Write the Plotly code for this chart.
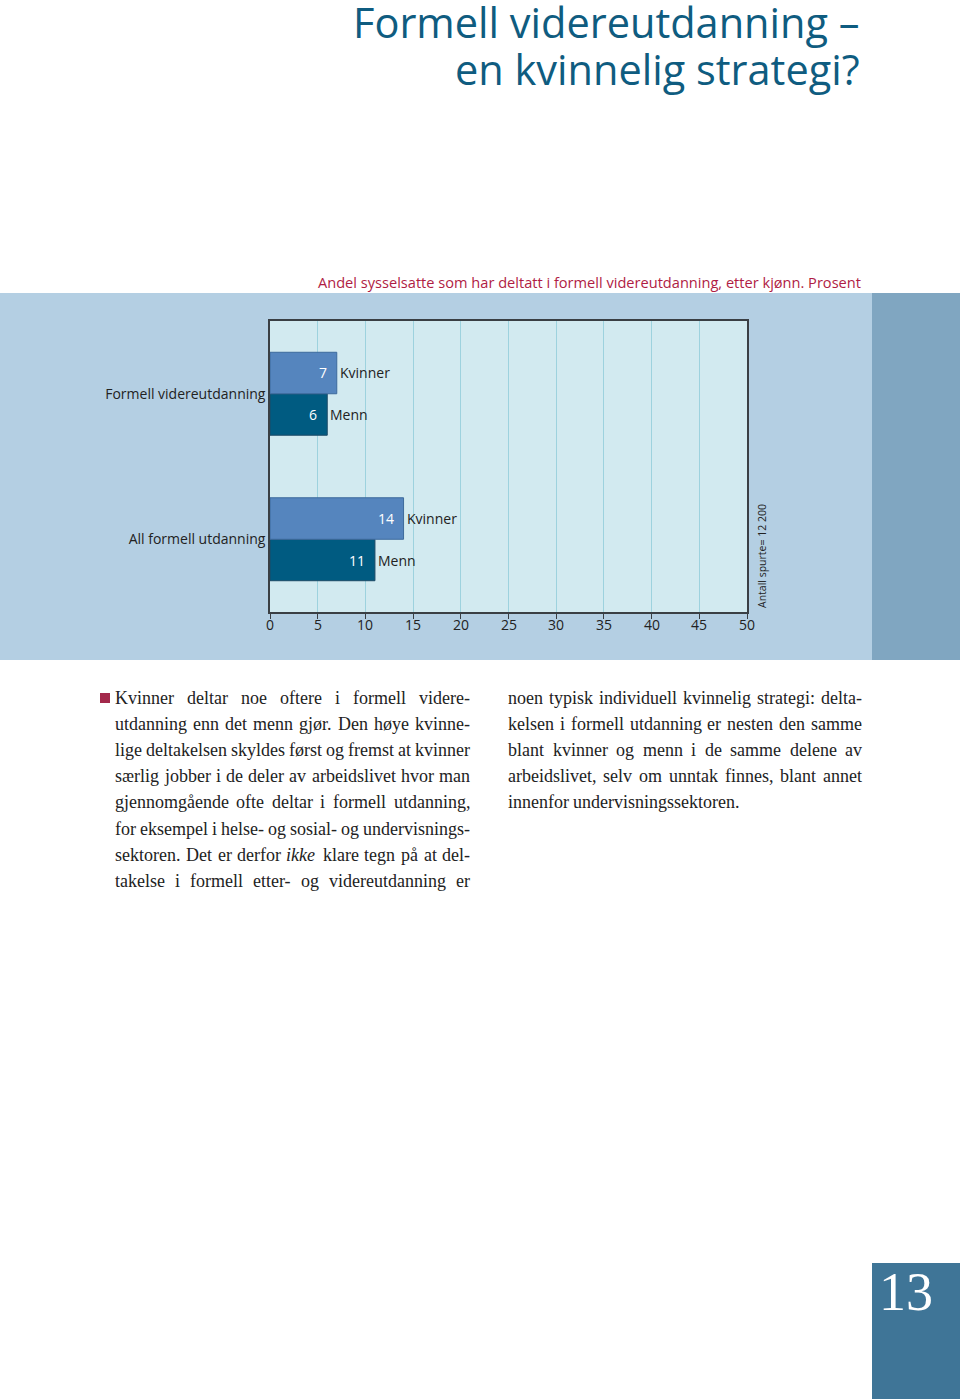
import re
import plotly.graph_objects as go

W, H = 960, 1399

# ---- data ----
categories = ["Formell videreutdanning", "All formell utdanning"]
kvinner = [7, 14]
menn = [6, 11]
series_names = ["Kvinner", "Menn"]
x_ticks = [0, 5, 10, 15, 20, 25, 30, 35, 40, 45, 50]

title_lines = ["Formell videreutdanning –", "en kvinnelig strategi?"]
subtitle = "Andel sysselsatte som har deltatt i formell videreutdanning, etter kjønn. Prosent"
note = "Antall spurte= 12 200"
left_col = [
    "Kvinner deltar noe oftere i formell videre-",
    "utdanning enn det menn gjør. Den høye kvinne-",
    "lige deltakelsen skyldes først og fremst at kvinner",
    "særlig jobber i de deler av arbeidslivet hvor man",
    "gjennomgående ofte deltar i formell utdanning,",
    "for eksempel i helse- og sosial- og undervisnings-",
    "sektoren. Det er derfor <i>ikke</i> klare tegn på at del-",
    "takelse i formell etter- og videreutdanning er",
]
right_col = [
    "noen typisk individuell kvinnelig strategi: delta-",
    "kelsen i formell utdanning er nesten den samme",
    "blant kvinner og menn i de samme delene av",
    "arbeidslivet, selv om unntak finnes, blant annet",
    "innenfor undervisningssektoren.",
]
page_number = "13"

# ---- styles ----
C_TITLE = "#0f5c80"
C_SUB = "#b01c44"
C_BAND = "#b4cfe3"
C_BAND_DARK = "#80a6c1"
C_PLOT = "#d2eaf0"
C_GRID = "#9dd2de"
C_KV = "#5585be"
C_ME = "#005b81"
C_TEXT = "#222222"
C_AXIS = "#3a3f44"
SANS = "Open Sans, Noto Sans, sans-serif"
SERIF = "Liberation Serif, DejaVu Serif, serif"
BODY_SIZE = 18

# approximate Times / Liberation Serif advance widths (per 1000 em) for justification
_TW = {" ": 250, ",": 250, "-": 333, ".": 250, ":": 278, "–": 500,
       "A": 722, "B": 667, "C": 667, "D": 722, "E": 611, "F": 556, "G": 722, "H": 722,
       "I": 333, "J": 389, "K": 722, "L": 611, "M": 889, "N": 722, "O": 722, "P": 556,
       "R": 667, "S": 556, "T": 611, "U": 722, "V": 722, "W": 944,
       "a": 444, "b": 500, "c": 444, "d": 500, "e": 444, "f": 333, "g": 500, "h": 500,
       "i": 278, "j": 278, "k": 500, "l": 278, "m": 778, "n": 500, "o": 500, "p": 500,
       "q": 500, "r": 333, "s": 389, "t": 278, "u": 500, "v": 500, "w": 722, "x": 500,
       "y": 500, "z": 444, "æ": 667, "ø": 500, "å": 444}


def tw(s, size=BODY_SIZE):
    plain = re.sub(r"<[^>]+>", "", s)
    return sum(_TW.get(c, 500) for c in plain) / 1000 * size


def px(x):
    return x / W


def py(y):
    return 1 - y / H


fig = go.Figure()

fig.add_trace(go.Bar(
    y=categories, x=menn, name=series_names[1], orientation="h",
    marker=dict(color=C_ME, line=dict(color="#1d4a66", width=1)),
    hoverinfo="skip",
))
fig.add_trace(go.Bar(
    y=categories, x=kvinner, name=series_names[0], orientation="h",
    marker=dict(color=C_KV, line=dict(color="#3d6a9c", width=1)),
    hoverinfo="skip",
))

shapes = [
    dict(type="rect", xref="paper", yref="paper", x0=0, x1=px(872), y0=py(660), y1=py(293),
         fillcolor=C_BAND, line=dict(width=0), layer="below"),
    dict(type="rect", xref="paper", yref="paper", x0=px(872), x1=1, y0=py(660), y1=py(293),
         fillcolor=C_BAND_DARK, line=dict(width=0), layer="below"),
    dict(type="rect", xref="x domain", yref="y domain", x0=0, x1=1, y0=0, y1=1,
         fillcolor=C_PLOT, line=dict(width=0), layer="below"),
    dict(type="rect", xref="paper", yref="paper", x0=px(872), x1=1, y0=0, y1=py(1263),
         fillcolor="#3f7597", line=dict(width=0), layer="below"),
    dict(type="rect", xref="paper", yref="paper", x0=px(100), x1=px(110), y0=py(703), y1=py(693),
         fillcolor="#a3294b", line=dict(width=0)),
]

annotations = []
annotations.append(dict(text=title_lines[0], x=px(862), y=py(22), xref="paper", yref="paper",
                        xanchor="right", yanchor="middle", showarrow=False,
                        font=dict(family=SANS, size=41.5, color=C_TITLE)))
annotations.append(dict(text=title_lines[1], x=px(862), y=py(69), xref="paper", yref="paper",
                        xanchor="right", yanchor="middle", showarrow=False,
                        font=dict(family=SANS, size=41.5, color=C_TITLE)))
annotations.append(dict(text=subtitle, x=px(863), y=py(282), xref="paper", yref="paper",
                        xanchor="right", yanchor="middle", showarrow=False,
                        font=dict(family=SANS, size=14.6, color=C_SUB)))
annotations.append(dict(text=note, x=px(762), y=py(556), xref="paper", yref="paper",
                        xanchor="center", yanchor="middle", showarrow=False, textangle=-90,
                        font=dict(family=SANS, size=10.5, color=C_TEXT)))

for t in x_ticks:
    annotations.append(dict(text=str(t), x=t, y=py(624), xref="x", yref="paper",
                            xanchor="center", yanchor="middle", showarrow=False,
                            font=dict(family=SANS, size=14, color=C_TEXT)))

BAR_SHIFT = 21
for vals, name, shift in [(kvinner, series_names[0], BAR_SHIFT), (menn, series_names[1], -BAR_SHIFT)]:
    for cat, v in zip(categories, vals):
        annotations.append(dict(text=str(v), x=v, y=cat, xref="x", yref="y", yshift=shift,
                                xanchor="right", xshift=-8, yanchor="middle", showarrow=False,
                                font=dict(family=SANS, size=14, color="white")))
        annotations.append(dict(text=name, x=v, y=cat, xref="x", yref="y", yshift=shift,
                                xanchor="left", xshift=1, yanchor="middle", showarrow=False,
                                font=dict(family=SANS, size=14, color=C_TEXT)))


def add_justified(lines, x_left, x_right, y_first, line_h, justify_last):
    for i, line in enumerate(lines):
        y = py(y_first + i * line_h)
        words = line.split(" ")
        last = (i == len(lines) - 1) and not justify_last
        widths = [tw(w) for w in words]
        if last or len(words) == 1:
            gap = tw(" ")
        else:
            gap = (x_right - x_left - sum(widths)) / (len(words) - 1)
        x = x_left
        for w, wd in zip(words, widths):
            annotations.append(dict(text=w, x=px(x), y=y, xref="paper", yref="paper",
                                    xanchor="left", yanchor="middle", showarrow=False,
                                    borderpad=0, borderwidth=0,
                                    font=dict(family=SERIF, size=BODY_SIZE, color=C_TEXT)))
            x += wd + gap


LINE_H = 26.1
add_justified(left_col, 115, 470, 698, LINE_H, True)
add_justified(right_col, 508, 862, 698, LINE_H, False)

annotations.append(dict(text=page_number, x=px(906), y=py(1292), xref="paper", yref="paper",
                        xanchor="center", yanchor="middle", showarrow=False,
                        font=dict(family=SERIF, size=54, color="white")))

fig.update_layout(
    width=W, height=H, autosize=False,
    margin=dict(l=0, r=0, t=0, b=0),
    paper_bgcolor="white",
    plot_bgcolor=C_PLOT,
    barmode="group",
    bargap=0.43,
    bargroupgap=0,
    showlegend=False,
    shapes=shapes,
    annotations=annotations,
    xaxis=dict(
        domain=[px(270), px(747)], range=[0, 50], tickvals=x_ticks, showticklabels=False,
        showgrid=True, gridcolor=C_GRID, gridwidth=1,
        showline=True, mirror=True, linecolor=C_AXIS, linewidth=1.5,
        ticks="outside", ticklen=5, tickcolor=C_AXIS, tickwidth=1.2,
        zeroline=False, fixedrange=True,
    ),
    yaxis=dict(
        domain=[py(612), py(321)], type="category",
        categoryorder="array", categoryarray=categories[::-1],
        showline=True, mirror=True, linecolor=C_AXIS, linewidth=1.5,
        ticks="", ticklabelstandoff=0,
        tickfont=dict(family=SANS, size=14, color=C_TEXT), showgrid=False, fixedrange=True,
    ),
)

fig.write_html("out.html", config={"responsive": False, "displayModeBar": False})
